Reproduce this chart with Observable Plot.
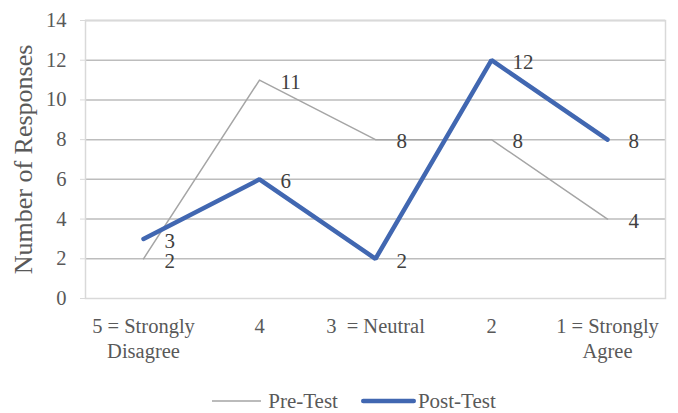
<!DOCTYPE html>
<html>
<head>
<meta charset="utf-8">
<script src="https://cdn.jsdelivr.net/npm/d3@7"></script>
<script src="https://cdn.jsdelivr.net/npm/@observablehq/plot@0.6"></script>
<style>
  body { margin: 0; background: white; font-family: "Liberation Serif", Times, "DejaVu Serif", serif; }
  #wrap { width: 678px; height: 413px; position: relative; }
  #legend { height: 33px; display: flex; align-items: center; justify-content: center; padding-left: 30px; padding-top: 9px; box-sizing: border-box; font-size: 21px; color: #595959; }
  .item { display: flex; align-items: center; }
  .item span { white-space: nowrap; }
</style>
</head>
<body>
<div id="wrap"><div id="chart"></div><div id="legend"></div></div>
<script>
const categories = ["5 = Strongly\nDisagree", "4", "3\u00a0 = Neutral", "2", "1 = Strongly\nAgree"];
const preTest = [2, 11, 8, 8, 4];
const postTest = [3, 6, 2, 12, 8];
const yTicks = [0, 2, 4, 6, 8, 10, 12, 14];
const seriesNames = ["Pre-Test", "Post-Test"];

const pre = categories.map((c, i) => ({cat: c, value: preTest[i]}));
const post = categories.map((c, i) => ({cat: c, value: postTest[i]}));

const font = '"Liberation Serif", Times, "DejaVu Serif", serif';
const preColor = "#a5a5a5";
const postColor = "#4167b1";

const chart = Plot.plot({
  width: 678,
  height: 380,
  marginLeft: 85,
  marginRight: 13,
  marginTop: 20,
  marginBottom: 82,
  style: {fontFamily: font, fontSize: "20.5px", color: "#595959", background: "white"},
  x: {type: "point", domain: categories, padding: 0.5, label: null},
  y: {domain: [0, 14], label: null},
  marks: [
    Plot.ruleY(yTicks.filter(d => d > 0), {stroke: "#bdbdbd", strokeWidth: 1.5}),
    Plot.frame({stroke: "#d9d9d9", strokeWidth: 1.5}),
    Plot.axisY({ticks: yTicks, tickSize: 5, tickPadding: 14, stroke: "#d9d9d9", fill: "#595959", fontSize: 20.5, fontFamily: font, label: null}),
    Plot.axisX({tickSize: 0, tickPadding: 17, lineHeight: 1.2, fontSize: 20.5, fontFamily: font, fill: "#595959", label: null}),
    Plot.line(pre, {x: "cat", y: "value", stroke: preColor, strokeWidth: 1.5}),
    Plot.line(post, {x: "cat", y: "value", stroke: postColor, strokeWidth: 4.5, strokeLinecap: "round", strokeLinejoin: "miter"}),
    Plot.text(pre, {x: "cat", y: "value", text: d => String(d.value), dx: 21, dy: 2, textAnchor: "start", fontSize: 21, fontFamily: font, fill: "#404040"}),
    Plot.text(post, {x: "cat", y: "value", text: d => String(d.value), dx: 21, dy: 2, textAnchor: "start", fontSize: 21, fontFamily: font, fill: "#404040"}),
    Plot.text(["Number of Responses"], {frameAnchor: "left", textAnchor: "middle", rotate: -90, dx: -62, fontSize: 26, fontFamily: font, fill: "#595959"})
  ]
});
document.getElementById("chart").appendChild(chart);

const legend = document.getElementById("legend");
const legendStyles = [
  {color: preColor, width: 1.5, len: 49, cap: "butt", gap: 7, after: 23},
  {color: postColor, width: 4.5, len: 55, cap: "round", gap: 2, after: 0}
];
seriesNames.forEach((name, i) => {
  const item = document.createElement("div");
  item.className = "item";
  const s = legendStyles[i];
  const pad = s.cap === "round" ? s.width / 2 : 0;
  item.style.marginRight = s.after + "px";
  item.innerHTML = `<svg width="${s.len}" height="10" style="margin-right:${s.gap}px"><line x1="${pad}" y1="5" x2="${s.len - pad}" y2="5" stroke="${s.color}" stroke-width="${s.width}" stroke-linecap="${s.cap}"/></svg><span>${name}</span>`;
  legend.appendChild(item);
});
</script>
</body>
</html>
